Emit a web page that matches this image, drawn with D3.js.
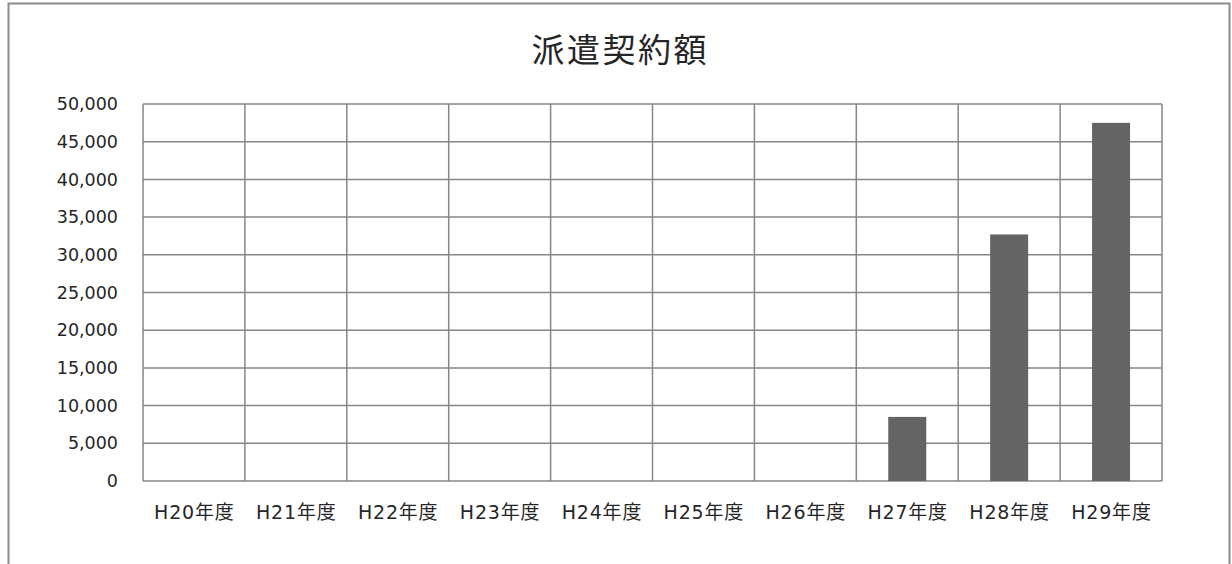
<!DOCTYPE html>
<html>
<head>
<meta charset="utf-8">
<script src="https://cdn.jsdelivr.net/npm/d3@7"></script>
<style>
  html, body { margin: 0; padding: 0; background: #fff; }
  svg { display: block; }
  text { font-family: "DejaVu Sans", "Noto Sans CJK JP", sans-serif; fill: #262626; }
</style>
</head>
<body>
<svg id="chart" width="1232" height="564"></svg>
<script>
// 派遣契約額 by fiscal year
const categories = ["H20年度", "H21年度", "H22年度", "H23年度", "H24年度",
                    "H25年度", "H26年度", "H27年度", "H28年度", "H29年度"];
const amounts = [0, 0, 0, 0, 0, 0, 0, 8500, 32700, 47500];
const yTicks = [0, 5000, 10000, 15000, 20000, 25000, 30000, 35000, 40000, 45000, 50000];
const title = "派遣契約額";

const svg = d3.select("#chart");
const plot = { left: 143, right: 1162, top: 104, bottom: 481 };
const gridColor = "#868686";

// outer chart frame
svg.append("rect")
  .attr("x", 8.5).attr("y", 3.5)
  .attr("width", 1221).attr("height", 600)
  .attr("fill", "#fff").attr("stroke", "#8c8c8c").attr("stroke-width", 2);

// title (trailing letter-spacing compensated in x)
const titleSpacing = 2.5;
svg.append("text")
  .attr("x", 619 + titleSpacing / 2).attr("y", 62)
  .attr("text-anchor", "middle")
  .attr("font-size", 33)
  .style("font-family", "'Noto Sans CJK JP', sans-serif")
  .style("letter-spacing", titleSpacing + "px")
  .text(title);

const x = d3.scaleBand().domain(categories).range([plot.left, plot.right]).paddingInner(0).paddingOuter(0);
const y = d3.scaleLinear().domain([0, 50000]).range([plot.bottom, plot.top]);

// horizontal gridlines
svg.append("g").selectAll("line").data(yTicks).join("line")
  .attr("x1", plot.left).attr("x2", plot.right)
  .attr("y1", d => y(d)).attr("y2", d => y(d))
  .attr("stroke", gridColor).attr("stroke-width", 1.5);

// vertical category separators
const seps = categories.map(c => x(c)).concat([plot.right]);
svg.append("g").selectAll("line").data(seps).join("line")
  .attr("x1", d => d).attr("x2", d => d)
  .attr("y1", plot.top).attr("y2", plot.bottom)
  .attr("stroke", gridColor).attr("stroke-width", 1.5);

// bars
const barW = 38;
svg.append("g").selectAll("rect").data(categories.map((c, i) => ({ c, v: amounts[i] })).filter(d => d.v > 0))
  .join("rect")
  .attr("x", d => x(d.c) + x.bandwidth() / 2 - barW / 2)
  .attr("width", barW)
  .attr("y", d => y(d.v))
  .attr("height", d => y(0) - y(d.v))
  .attr("fill", "#646464");

// y axis labels
const yAxis = d3.axisLeft(y).tickValues(yTicks).tickFormat(d3.format(",")).tickSize(0).tickPadding(25);
const gy = svg.append("g").attr("transform", `translate(${plot.left},0)`).call(yAxis);
gy.select(".domain").remove();
gy.selectAll("text").attr("font-size", 17.5).attr("fill", "#262626")
  .style("font-family", "'DejaVu Sans', 'Noto Sans CJK JP', sans-serif");

// x axis labels
const xSpacing = 0.8;
const xAxis = d3.axisBottom(x).tickSize(0).tickPadding(25);
const gx = svg.append("g").attr("transform", `translate(0,${plot.bottom})`).call(xAxis);
gx.select(".domain").remove();
gx.selectAll("text").attr("font-size", 19).attr("fill", "#262626")
  .attr("dx", xSpacing / 2)
  .style("letter-spacing", xSpacing + "px")
  .style("font-family", "'DejaVu Sans', 'Noto Sans CJK JP', sans-serif");
</script>
</body>
</html>
